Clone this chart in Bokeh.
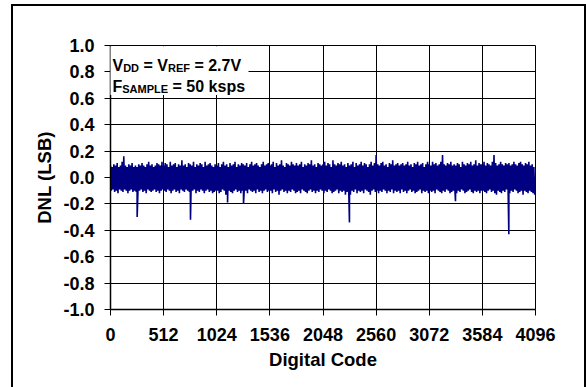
import numpy as np
from bokeh.plotting import figure
from bokeh.models import (Range1d, FixedTicker, NumeralTickFormatter,
                          BoxAnnotation, InlineStyleSheet, ColumnDataSource)
from bokeh.core.properties import value
from bokeh.embed import file_html
from bokeh.resources import INLINE

# ---------------------------------------------------------------------------
# DNL of a 12-bit ADC, VDD = VREF = 2.7 V, 50 ksps.
# The trace is dense (4096 codes), so it is kept as its upper and lower
# envelope, one pair every 16 codes, plus the isolated missing-code dips.
# ---------------------------------------------------------------------------
X_TICKS = [0, 512, 1024, 1536, 2048, 2560, 3072, 3584, 4096]
Y_TICKS = [-1.0, -0.8, -0.6, -0.4, -0.2, 0.0, 0.2, 0.4, 0.6, 0.8, 1.0]

CODE_STEP = 16  # codes between successive envelope readings

DNL_UPPER = [
    0.09, 0.08, 0.10, 0.09, 0.11, 0.08, 0.09, 0.12, 0.16, 0.09, 0.08, 0.10, 0.09, 0.11, 0.08, 0.09,
    0.08, 0.10, 0.09, 0.11, 0.09, 0.08, 0.10, 0.12, 0.09, 0.10, 0.08, 0.09, 0.11, 0.10, 0.09, 0.12,
    0.09, 0.11, 0.10, 0.08, 0.12, 0.09, 0.10, 0.11, 0.08, 0.10, 0.09, 0.13, 0.09, 0.10, 0.08, 0.11,
    0.10, 0.09, 0.12, 0.08, 0.10, 0.09, 0.11, 0.10, 0.08, 0.12, 0.09, 0.10, 0.11, 0.09, 0.08, 0.10,
    0.09, 0.11, 0.08, 0.10, 0.12, 0.09, 0.10, 0.08, 0.11, 0.09, 0.10, 0.12, 0.08, 0.10, 0.09, 0.11,
    0.10, 0.09, 0.11, 0.08, 0.10, 0.12, 0.09, 0.10, 0.11, 0.09, 0.08, 0.10, 0.12, 0.09, 0.10, 0.11,
    0.09, 0.10, 0.12, 0.08, 0.11, 0.09, 0.10, 0.13, 0.09, 0.08, 0.11, 0.10, 0.09, 0.12, 0.10, 0.09,
    0.11, 0.09, 0.10, 0.12, 0.08, 0.10, 0.09, 0.11, 0.10, 0.13, 0.09, 0.10, 0.08, 0.11, 0.10, 0.09,
    0.10, 0.12, 0.09, 0.11, 0.10, 0.08, 0.13, 0.10, 0.09, 0.11, 0.10, 0.12, 0.09, 0.10, 0.08, 0.11,
    0.09, 0.10, 0.12, 0.08, 0.11, 0.09, 0.10, 0.12, 0.09, 0.11, 0.10, 0.08, 0.10, 0.12, 0.09, 0.11,
    0.17, 0.10, 0.09, 0.11, 0.12, 0.09, 0.10, 0.08, 0.11, 0.10, 0.13, 0.09, 0.10, 0.11, 0.09, 0.10,
    0.11, 0.09, 0.10, 0.12, 0.09, 0.10, 0.08, 0.11, 0.10, 0.12, 0.09, 0.10, 0.11, 0.08, 0.10, 0.12,
    0.10, 0.09, 0.12, 0.10, 0.11, 0.09, 0.10, 0.12, 0.17, 0.10, 0.09, 0.11, 0.10, 0.12, 0.09, 0.10,
    0.09, 0.11, 0.10, 0.08, 0.12, 0.10, 0.09, 0.11, 0.10, 0.12, 0.09, 0.10, 0.13, 0.09, 0.11, 0.10,
    0.10, 0.12, 0.09, 0.11, 0.10, 0.09, 0.12, 0.17, 0.11, 0.09, 0.10, 0.12, 0.10, 0.09, 0.11, 0.10,
    0.11, 0.09, 0.10, 0.12, 0.10, 0.09, 0.11, 0.12, 0.10, 0.09, 0.11, 0.10, 0.12, 0.09, 0.10, 0.08,
]

DNL_LOWER = [
    -0.10, -0.09, -0.11, -0.10, -0.12, -0.09, -0.10, -0.11, -0.09, -0.10, -0.12, -0.10, -0.09, -0.11, -0.10, -0.11,
    -0.12, -0.10, -0.09, -0.11, -0.10, -0.12, -0.09, -0.10, -0.11, -0.10, -0.09, -0.11, -0.10, -0.12, -0.10, -0.09,
    -0.10, -0.11, -0.09, -0.10, -0.12, -0.10, -0.09, -0.11, -0.10, -0.12, -0.09, -0.10, -0.11, -0.09, -0.10, -0.11,
    -0.11, -0.10, -0.09, -0.12, -0.10, -0.11, -0.09, -0.10, -0.12, -0.10, -0.09, -0.11, -0.10, -0.12, -0.11, -0.10,
    -0.10, -0.12, -0.11, -0.09, -0.10, -0.13, -0.14, -0.10, -0.11, -0.12, -0.10, -0.09, -0.11, -0.10, -0.12, -0.10,
    -0.11, -0.10, -0.12, -0.09, -0.10, -0.11, -0.10, -0.12, -0.09, -0.11, -0.10, -0.12, -0.10, -0.09, -0.11, -0.10,
    -0.10, -0.12, -0.09, -0.11, -0.10, -0.13, -0.10, -0.09, -0.11, -0.10, -0.12, -0.10, -0.11, -0.09, -0.10, -0.12,
    -0.11, -0.10, -0.12, -0.09, -0.10, -0.11, -0.12, -0.10, -0.09, -0.11, -0.10, -0.12, -0.10, -0.11, -0.09, -0.10,
    -0.12, -0.10, -0.11, -0.09, -0.10, -0.12, -0.11, -0.10, -0.09, -0.12, -0.10, -0.11, -0.10, -0.13, -0.11, -0.10,
    -0.13, -0.10, -0.11, -0.09, -0.12, -0.10, -0.11, -0.10, -0.12, -0.09, -0.10, -0.11, -0.13, -0.10, -0.09, -0.11,
    -0.10, -0.12, -0.10, -0.11, -0.09, -0.10, -0.12, -0.10, -0.11, -0.09, -0.12, -0.10, -0.11, -0.10, -0.12, -0.09,
    -0.11, -0.10, -0.12, -0.10, -0.09, -0.11, -0.10, -0.12, -0.11, -0.10, -0.09, -0.12, -0.10, -0.11, -0.10, -0.12,
    -0.10, -0.11, -0.10, -0.12, -0.09, -0.10, -0.11, -0.12, -0.10, -0.11, -0.09, -0.10, -0.12, -0.11, -0.10, -0.11,
    -0.12, -0.10, -0.11, -0.09, -0.10, -0.12, -0.11, -0.10, -0.09, -0.11, -0.12, -0.10, -0.11, -0.10, -0.12, -0.10,
    -0.10, -0.11, -0.12, -0.10, -0.09, -0.11, -0.10, -0.12, -0.13, -0.10, -0.11, -0.12, -0.10, -0.11, -0.09, -0.10,
    -0.12, -0.10, -0.11, -0.09, -0.10, -0.12, -0.11, -0.10, -0.13, -0.10, -0.11, -0.12, -0.10, -0.11, -0.12, -0.13,
]

# isolated dips below the noise band
DIP_CODE = [257, 771, 1128, 1282, 2303, 3325, 3839]
DIP_DNL = [-0.30, -0.32, -0.19, -0.20, -0.34, -0.18, -0.43]

# ---------------------------------------------------------------------------
# build the trace: upper reading at each step, lower reading half a step later
# ---------------------------------------------------------------------------
n = len(DNL_UPPER)
codes = np.empty(2 * n)
dnl = np.empty(2 * n)
codes[0::2] = np.arange(n) * CODE_STEP
codes[1::2] = np.arange(n) * CODE_STEP + CODE_STEP // 2
dnl[0::2] = DNL_UPPER
dnl[1::2] = DNL_LOWER
codes = np.concatenate([codes, DIP_CODE])
dnl = np.concatenate([dnl, DIP_DNL])
order = np.argsort(codes, kind="stable")
trace = ColumnDataSource(data=dict(code=codes[order], dnl=dnl[order]))

FONT = "Liberation Sans"
INK = "#000000"
TRACE_COLOR = "#000080"

p = figure(width=586, height=387,
           x_range=Range1d(0, 4096), y_range=Range1d(-1.0, 1.0),
           output_backend="svg", toolbar_location=None,
           min_border_left=110, min_border_right=51,
           min_border_top=45, min_border_bottom=78,
           background_fill_color="white", border_fill_color="white")

p.outline_line_color = INK
p.outline_line_width = 1

p.xaxis.ticker = FixedTicker(ticks=X_TICKS)
p.yaxis.ticker = FixedTicker(ticks=Y_TICKS)
p.xgrid.ticker = FixedTicker(ticks=X_TICKS)
p.ygrid.ticker = FixedTicker(ticks=Y_TICKS)
p.yaxis.formatter = NumeralTickFormatter(format="0.0")

for g in (p.xgrid, p.ygrid):
    g.grid_line_color = INK
    g.grid_line_width = 1
    g.grid_line_alpha = 1.0

for ax in (p.xaxis, p.yaxis):
    ax.axis_line_color = INK
    ax.axis_line_width = 1.5
    ax.major_tick_line_color = INK
    ax.major_tick_line_width = 1
    ax.major_tick_out = 6
    ax.major_tick_in = 0
    ax.minor_tick_out = 0
    ax.minor_tick_in = 0
    ax.major_label_text_font = FONT
    ax.major_label_text_font_style = "bold"
    ax.major_label_text_font_size = "18px"
    ax.major_label_text_color = INK
    ax.axis_label_text_font = FONT
    ax.axis_label_text_font_style = "bold"
    ax.axis_label_text_font_size = "18.5px"
    ax.axis_label_text_color = INK
    ax.axis_label_standoff = 5

p.xaxis.axis_label = "Digital Code"
p.yaxis.axis_label = "DNL (LSB)"
p.xaxis.major_label_standoff = 12
p.yaxis.major_label_standoff = 10

p.line("code", "dnl", source=trace, line_color=TRACE_COLOR, line_width=1.6)

# ---------------------------------------------------------------------------
# condition box in the upper-left corner
# ---------------------------------------------------------------------------
p.add_layout(BoxAnnotation(left=-15, right=1330, top=0.995, bottom=0.625,
                           fill_color="white", fill_alpha=1.0,
                           line_color=None, level="annotation"))

# Arial/Liberation Sans Bold advance widths (per 1000 em)
ADV = {" ": 278, "=": 584, ".": 278, "V": 667, "D": 722, "R": 722, "E": 667,
       "F": 611, "S": 667, "A": 722, "M": 833, "P": 667, "L": 611, "k": 556,
       "s": 556, "p": 611}
for d in "0123456789":
    ADV[d] = 556

MAIN_PX = 16
SUB_PX = 11


def text_width(s, px):
    return sum(ADV[c] for c in s) * px / 1000.0


LINES = [
    [("V", False), ("DD", True), (" = V", False), ("REF", True), (" = 2.7V", False)],
    [("F", False), ("SAMPLE", True), (" = 50 ksps", False)],
]
LINE_BASE = [20, 41]  # baseline, px below the top of the frame

pieces = dict(x=[], y=[], txt=[], dx=[], dy=[], size=[])
for parts, base in zip(LINES, LINE_BASE):
    cursor = 2.0
    for s, sub in parts:
        px = SUB_PX if sub else MAIN_PX
        body = s.lstrip(" ")
        lead = text_width(s[:len(s) - len(body)], px)  # leading blanks are not drawn
        pieces["x"].append(0)
        pieces["y"].append(1.0)
        pieces["txt"].append(body)
        pieces["dx"].append(cursor + lead)
        pieces["dy"].append(base + (2 if sub else 0))
        pieces["size"].append(f"{px}px")
        cursor += text_width(s, px)

p.text(x="x", y="y", text="txt", x_offset="dx", y_offset="dy",
       text_font_size="size", source=ColumnDataSource(pieces),
       text_font=value(FONT), text_font_style="bold", text_color=INK,
       text_baseline="alphabetic", text_align="left", level="overlay")

# outer rule around the whole figure
p.stylesheets = [InlineStyleSheet(css=(
    ":host::after { content: ''; position: absolute; left: 11px; top: 4px; "
    "width: 571px; height: 400px; border: 2px solid #000; "
    "pointer-events: none; z-index: 10; }"))]

open("out.html", "w").write(file_html(p, INLINE))
